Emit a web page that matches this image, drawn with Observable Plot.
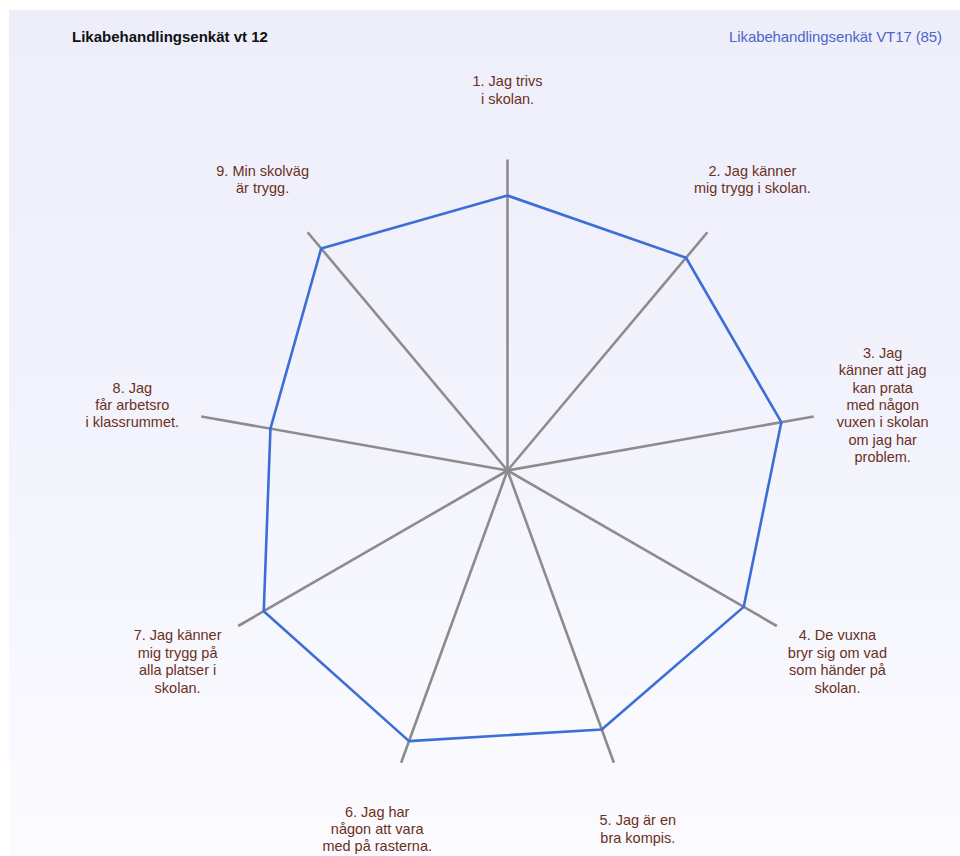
<!DOCTYPE html>
<html>
<head>
<meta charset="utf-8">
<script src="https://cdn.jsdelivr.net/npm/d3@7"></script>
<script src="https://cdn.jsdelivr.net/npm/@observablehq/plot@0.6"></script>
<style>
  html, body { margin: 0; padding: 0; background: #ffffff; }
  #wrap { position: relative; width: 960px; height: 856px; overflow: hidden; font-family: "Liberation Sans", Arial, sans-serif; }
  #panel { position: absolute; left: 9px; top: 10px; width: 951px; height: 846px;
           background: linear-gradient(to bottom, #eeeefb 0%, #f3f3fd 50%, #fbfbff 100%); }
  #chart { position: absolute; left: 0; top: 0; }
  #t1 { position: absolute; left: 72px; top: 28px; font-size: 15px; font-weight: bold; color: #111; letter-spacing: 0px; }
  #t2 { position: absolute; right: 18px; top: 28px; font-size: 15px; color: #4a67c9; letter-spacing: -0.1px; }
</style>
</head>
<body>
<div id="wrap">
  <div id="panel"></div>
  <div id="chart"></div>
  <div id="t1">Likabehandlingsenkät vt 12</div>
  <div id="t2">Likabehandlingsenkät VT17 (85)</div>
</div>
<script>
const categories = [
  "1. Jag trivs\ni skolan.",
  "2. Jag känner\nmig trygg i skolan.",
  "3. Jag\nkänner att jag\nkan prata\nmed någon\nvuxen i skolan\nom jag har\nproblem.",
  "4. De vuxna\nbryr sig om vad\nsom händer på\nskolan.",
  "5. Jag är en\nbra kompis.",
  "6. Jag har\nnågon att vara\nmed på rasterna.",
  "7. Jag känner\nmig trygg på\nalla platser i\nskolan.",
  "8. Jag\nfår arbetsro\ni klassrummet.",
  "9. Min skolväg\när trygg."
];
const seriesName = "Likabehandlingsenkät VT17 (85)";
const values = [88.4, 89.3, 89.4, 87.7, 88.6, 92.6, 90.5, 77.4, 93.2];
const maxValue = 100;
const labelRadius = 1.225;

const n = categories.length;
const angle = i => (2 * Math.PI * i) / n;
const rows = categories.map((c, i) => ({ category: c, value: values[i], i }));

const plot = Plot.plot({
  width: 960,
  height: 856,
  margin: 0,
  x: { domain: [-1, 1], range: [196, 818], axis: null },
  y: { domain: [-1, 1], range: [781, 159], axis: null },
  style: { background: "transparent", overflow: "visible" },
  marks: [
    Plot.link(rows, {
      x1: 0, y1: 0,
      x2: d => Math.sin(angle(d.i)),
      y2: d => Math.cos(angle(d.i)),
      stroke: "#8c8c8c",
      strokeWidth: 2.6
    }),
    Plot.line(rows, {
      x: d => Math.sin(angle(d.i)) * d.value / maxValue,
      y: d => Math.cos(angle(d.i)) * d.value / maxValue,
      curve: "linear-closed",
      stroke: "#3b6fd6",
      strokeWidth: 2.6,
      strokeLinejoin: "miter"
    }),
    Plot.text(rows, {
      x: d => Math.sin(angle(d.i)) * labelRadius,
      y: d => Math.cos(angle(d.i)) * labelRadius,
      text: "category",
      textAnchor: "middle",
      lineAnchor: "middle",
      lineHeight: 1.2,
      fontSize: 14.5,
      fontFamily: "Liberation Sans, Arial, sans-serif",
      fill: "#6a3020"
    })
  ]
});
document.getElementById("chart").appendChild(plot);
</script>
</body>
</html>
